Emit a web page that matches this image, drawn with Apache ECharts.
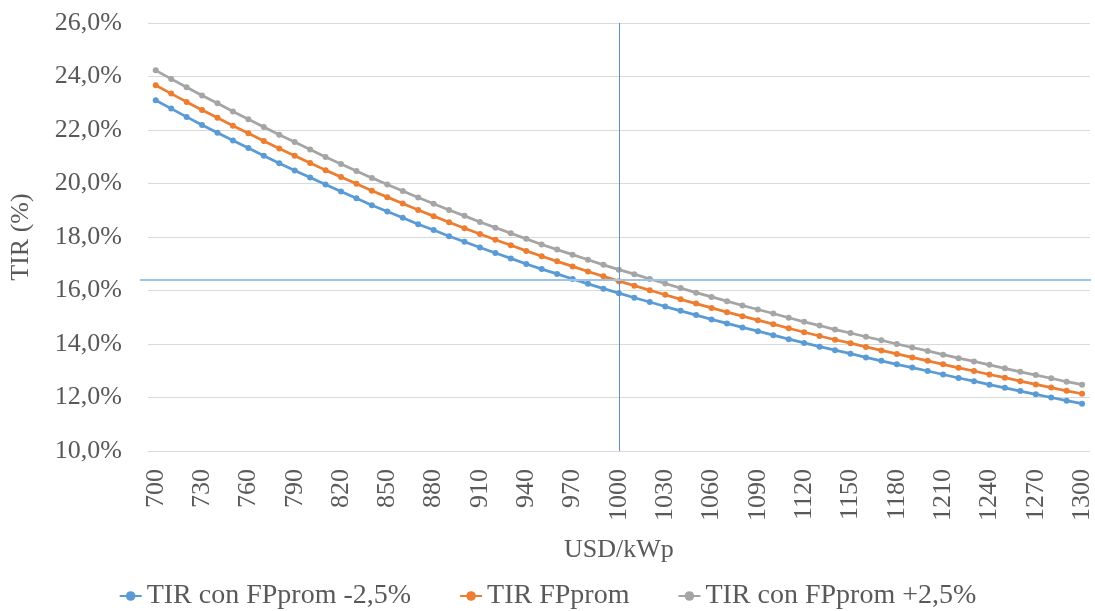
<!DOCTYPE html>
<html>
<head>
<meta charset="utf-8">
<script src="https://cdn.jsdelivr.net/npm/echarts@6/dist/echarts.min.js"></script>
<style>
html,body{margin:0;padding:0;background:#fff;}
#chart{width:1095px;height:611px;}
</style>
</head>
<body>
<div id="chart"></div>
<script>
var categories = [];
for (var c = 700; c <= 1300; c += 10) categories.push(String(c));

var seriesNames = ['TIR con FPprom -2,5%', 'TIR FPprom', 'TIR con FPprom +2,5%'];

var tirMenos = [23.11,22.80,22.49,22.19,21.90,21.61,21.33,21.04,20.76,20.49,20.22,19.96,19.70,19.45,19.19,18.95,
18.72,18.48,18.26,18.03,17.82,17.61,17.40,17.20,16.99,16.80,16.62,16.43,16.25,16.07,15.90,
15.73,15.57,15.40,15.24,15.08,14.92,14.77,14.62,14.48,14.33,14.18,14.04,13.90,13.77,13.64,
13.50,13.37,13.24,13.12,12.99,12.86,12.73,12.61,12.48,12.36,12.24,12.12,12.00,11.88,11.77];

var tirProm = [23.67,23.36,23.05,22.75,22.46,22.16,21.88,21.59,21.31,21.04,20.77,20.50,20.24,19.99,19.73,19.49,
19.25,19.01,18.78,18.55,18.33,18.11,17.90,17.69,17.48,17.28,17.09,16.90,16.71,16.53,16.35,
16.18,16.01,15.84,15.67,15.51,15.35,15.19,15.04,14.89,14.74,14.59,14.44,14.30,14.16,14.03,
13.89,13.76,13.63,13.50,13.37,13.24,13.11,12.99,12.86,12.74,12.61,12.49,12.37,12.25,12.14];

var tirMas = [24.23,23.91,23.60,23.29,23.00,22.69,22.40,22.11,21.82,21.55,21.27,20.99,20.73,20.47,20.21,19.96,
19.72,19.48,19.24,19.01,18.79,18.56,18.35,18.14,17.93,17.72,17.53,17.34,17.15,16.96,16.78,
16.61,16.43,16.26,16.09,15.92,15.76,15.60,15.44,15.29,15.14,14.98,14.83,14.69,14.54,14.41,
14.27,14.14,14.00,13.87,13.74,13.60,13.47,13.35,13.22,13.09,12.96,12.84,12.72,12.59,12.48];

var refX = '1000';
var refY = 16.41;

var colors = ['#5B9BD5', '#ED7D31', '#A5A5A5'];
var FONT = '"Liberation Serif", "DejaVu Serif", serif';
var TXT = '#595959';

function mkSeries(name, data, color) {
  return {
    name: name,
    type: 'line',
    data: data,
    symbol: 'circle',
    symbolSize: 6,
    showSymbol: true,
    itemStyle: {color: color},
    lineStyle: {color: color, width: 2.75},
    z: 3,
    animation: false
  };
}

var s0 = mkSeries(seriesNames[0], tirMenos, colors[0]);
var s1 = mkSeries(seriesNames[1], tirProm, colors[1]);
var s2 = mkSeries(seriesNames[2], tirMas, colors[2]);
s1.markLine = {
  silent: true,
  symbol: ['none', 'none'],
  label: {show: false},
  animation: false,
  data: [
    [{coord: [refX, 26], lineStyle: {color: '#5B8FC9', width: 1, type: 'solid'}},
     {coord: [refX, 10]}],
    [{coord: [categories[0], refY], x: 140, lineStyle: {color: '#9DC3E6', width: 2, type: 'solid'}},
     {coord: [categories[categories.length - 1], refY], x: 1091}]
  ]
};

var chart = echarts.init(document.getElementById('chart'), null, {renderer: 'canvas'});
chart.setOption({
  animation: false,
  backgroundColor: '#fff',
  color: colors,
  grid: {left: 140, right: 4, top: 23, bottom: 160, containLabel: false},
  xAxis: {
    type: 'category',
    data: categories,
    boundaryGap: true,
    name: 'USD/kWp',
    nameLocation: 'middle',
    nameGap: 86,
    nameTextStyle: {fontFamily: FONT, fontSize: 26, color: TXT},
    axisLine: {lineStyle: {color: '#D9D9D9', width: 1}},
    axisTick: {show: false},
    axisLabel: {
      interval: 2,
      rotate: 90,
      margin: 18,
      fontFamily: FONT,
      fontSize: 26,
      color: TXT
    },
    splitLine: {show: false}
  },
  yAxis: {
    type: 'value',
    min: 10,
    max: 26,
    interval: 2,
    name: 'TIR (%)',
    nameLocation: 'middle',
    nameGap: 114,
    nameRotate: 90,
    nameTextStyle: {fontFamily: FONT, fontSize: 26, color: TXT},
    axisLine: {show: false},
    axisTick: {show: false},
    axisLabel: {
      margin: 26,
      fontFamily: FONT,
      fontSize: 26,
      color: TXT,
      formatter: function (v) { return v.toFixed(1).replace('.', ',') + '%'; }
    },
    splitLine: {lineStyle: {color: '#D9D9D9', width: 1}}
  },
  legend: {
    bottom: -4,
    left: 'center',
    itemWidth: 22,
    itemHeight: 12,
    itemGap: 48,
    textStyle: {fontFamily: FONT, fontSize: 28, color: TXT},
    data: seriesNames
  },
  series: [s0, s1, s2]
});
</script>
</body>
</html>
